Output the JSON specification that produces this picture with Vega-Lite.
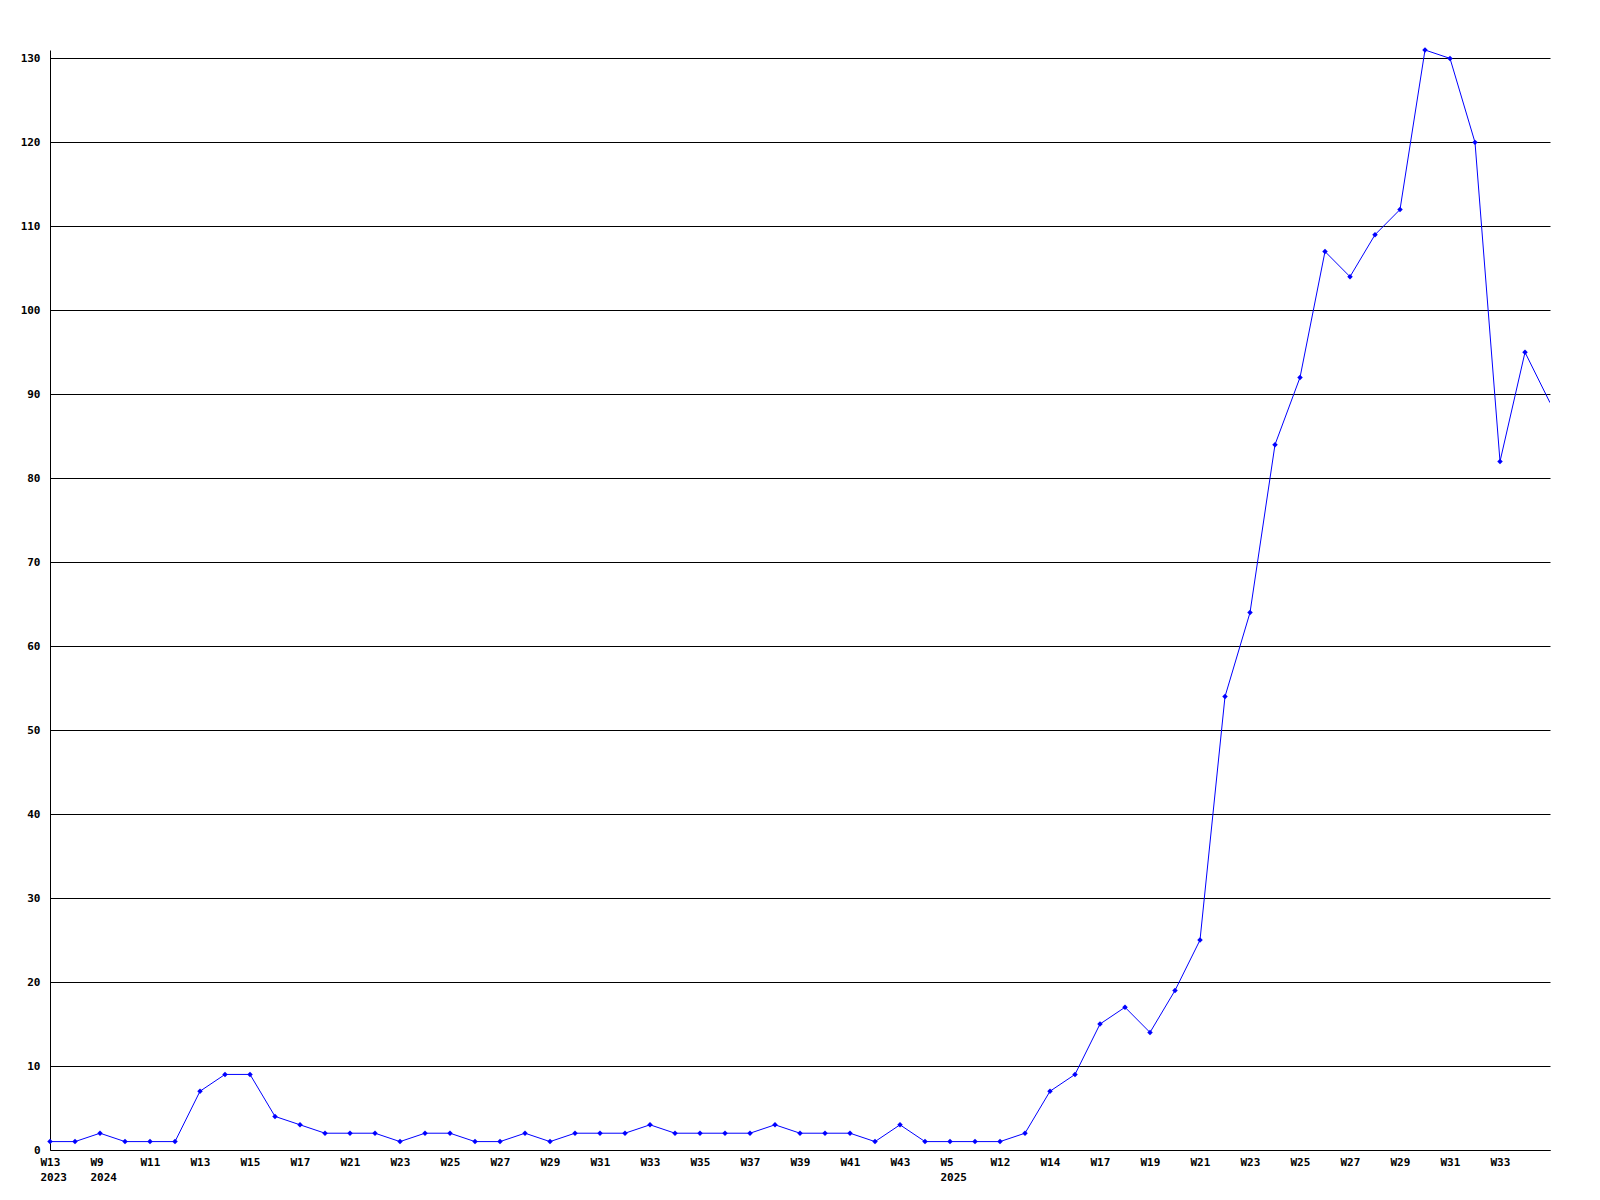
{
  "$schema": "https://vega.github.io/schema/vega-lite/v6.json",
  "width": 1500,
  "height": 1100,
  "autosize": "none",
  "padding": {"left": 50, "top": 50, "right": 50, "bottom": 50},
  "background": "white",
  "config": {
    "view": {"stroke": null},
    "font": "DejaVu Sans Mono",
    "axis": {
      "labelFont": "DejaVu Sans Mono",
      "labelFontWeight": "bold",
      "labelFontSize": 11,
      "labelColor": "black",
      "domainColor": "black",
      "domainWidth": 1,
      "ticks": false,
      "title": null
    }
  },
  "data": {
    "values": [
      {"week": "2023 W13", "count": 1},
      {"week": "2024 W8", "count": 1},
      {"week": "2024 W9", "count": 2},
      {"week": "2024 W10", "count": 1},
      {"week": "2024 W11", "count": 1},
      {"week": "2024 W12", "count": 1},
      {"week": "2024 W13", "count": 7},
      {"week": "2024 W14", "count": 9},
      {"week": "2024 W15", "count": 9},
      {"week": "2024 W16", "count": 4},
      {"week": "2024 W17", "count": 3},
      {"week": "2024 W20", "count": 2},
      {"week": "2024 W21", "count": 2},
      {"week": "2024 W22", "count": 2},
      {"week": "2024 W23", "count": 1},
      {"week": "2024 W24", "count": 2},
      {"week": "2024 W25", "count": 2},
      {"week": "2024 W26", "count": 1},
      {"week": "2024 W27", "count": 1},
      {"week": "2024 W28", "count": 2},
      {"week": "2024 W29", "count": 1},
      {"week": "2024 W30", "count": 2},
      {"week": "2024 W31", "count": 2},
      {"week": "2024 W32", "count": 2},
      {"week": "2024 W33", "count": 3},
      {"week": "2024 W34", "count": 2},
      {"week": "2024 W35", "count": 2},
      {"week": "2024 W36", "count": 2},
      {"week": "2024 W37", "count": 2},
      {"week": "2024 W38", "count": 3},
      {"week": "2024 W39", "count": 2},
      {"week": "2024 W40", "count": 2},
      {"week": "2024 W41", "count": 2},
      {"week": "2024 W42", "count": 1},
      {"week": "2024 W43", "count": 3},
      {"week": "2024 W44", "count": 1},
      {"week": "2025 W5", "count": 1},
      {"week": "2025 W10", "count": 1},
      {"week": "2025 W12", "count": 1},
      {"week": "2025 W13", "count": 2},
      {"week": "2025 W14", "count": 7},
      {"week": "2025 W16", "count": 9},
      {"week": "2025 W17", "count": 15},
      {"week": "2025 W18", "count": 17},
      {"week": "2025 W19", "count": 14},
      {"week": "2025 W20", "count": 19},
      {"week": "2025 W21", "count": 25},
      {"week": "2025 W22", "count": 54},
      {"week": "2025 W23", "count": 64},
      {"week": "2025 W24", "count": 84},
      {"week": "2025 W25", "count": 92},
      {"week": "2025 W26", "count": 107},
      {"week": "2025 W27", "count": 104},
      {"week": "2025 W28", "count": 109},
      {"week": "2025 W29", "count": 112},
      {"week": "2025 W30", "count": 131},
      {"week": "2025 W31", "count": 130},
      {"week": "2025 W32", "count": 120},
      {"week": "2025 W33", "count": 82},
      {"week": "2025 W34", "count": 95},
      {"week": "2025 W35", "count": 89}
    ]
  },
  "encoding": {
    "x": {
      "field": "week",
      "type": "ordinal",
      "sort": null,
      "scale": {"type": "point", "padding": 0},
      "axis": {
        "values": ["2023 W13", "2024 W9", "2024 W11", "2024 W13", "2024 W15", "2024 W17", "2024 W21", "2024 W23", "2024 W25", "2024 W27", "2024 W29", "2024 W31", "2024 W33", "2024 W35", "2024 W37", "2024 W39", "2024 W41", "2024 W43", "2025 W5", "2025 W12", "2025 W14", "2025 W17", "2025 W19", "2025 W21", "2025 W23", "2025 W25", "2025 W27", "2025 W29", "2025 W31", "2025 W33"],
        "labelExpr": "indexof(['2023 W13','2024 W9','2025 W5'], datum.value) >= 0 ? [split(datum.value,' ')[1], split(datum.value,' ')[0]] : split(datum.value,' ')[1]",
        "labelAlign": "left",
        "labelBaseline": "top",
        "labelOffset": -10,
        "labelPadding": 6,
        "labelLineHeight": 15,
        "labelAngle": 0,
        "grid": false,
        "labelOverlap": false
      }
    },
    "y": {
      "field": "count",
      "type": "quantitative",
      "scale": {"domain": [0, 131], "nice": false},
      "axis": {
        "values": [0, 10, 20, 30, 40, 50, 60, 70, 80, 90, 100, 110, 120, 130],
        "grid": true,
        "gridColor": "black",
        "gridOpacity": 1,
        "gridWidth": 1,
        "labelPadding": 10
      }
    }
  },
  "layer": [
    {"mark": {"type": "line", "color": "#0000ff", "strokeWidth": 1, "clip": true}},
    {
      "transform": [{"filter": "datum.week != '2025 W35'"}],
      "mark": {"type": "point", "shape": "diamond", "filled": true, "color": "#0000ff", "size": 30, "opacity": 1, "clip": false}
    }
  ]
}
